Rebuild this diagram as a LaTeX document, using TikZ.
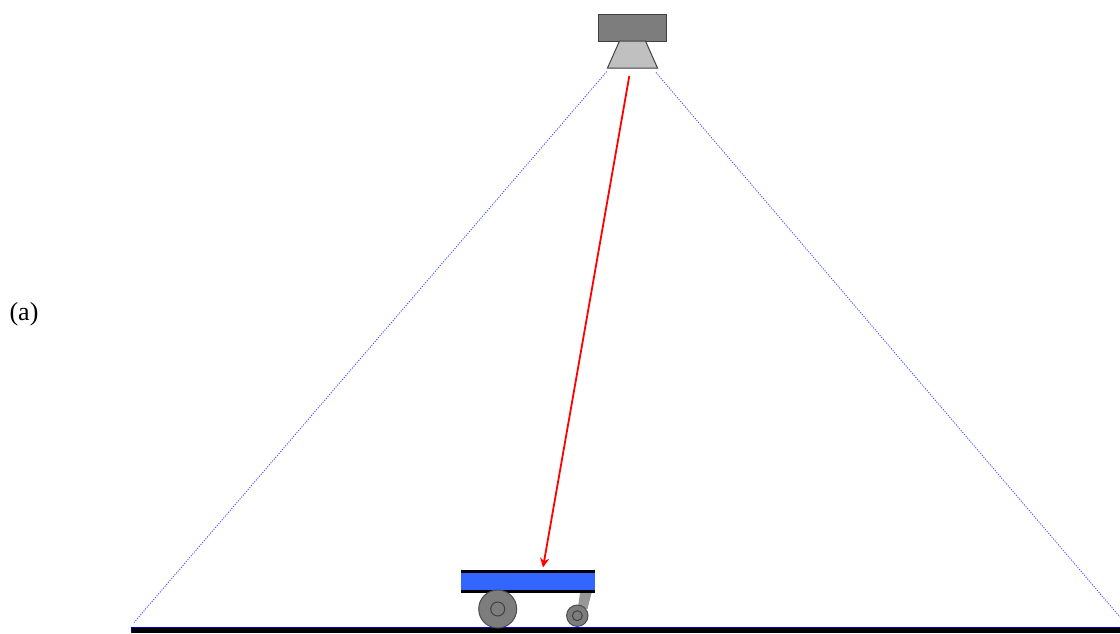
\documentclass[tikz,border=0pt]{standalone}
\usepackage{fontspec, xcolor}
\setmainfont{Liberation Serif}
\usetikzlibrary{arrows.meta}
\definecolor{bodygray}{HTML}{7D7D7D}
\definecolor{lensgray}{HTML}{C0C0C0}
\definecolor{deckblue}{HTML}{3366FF}
\begin{document}
\begin{tikzpicture}[x=1pt, y=-1pt,
    sightline/.style={color=blue!70!white, line width=0.9, dash pattern=on 1.1pt off 1.4pt},
    wheel/.style={draw=black!70, fill=bodygray, line width=1}]
    \useasboundingbox (0,0) rectangle (1120,633);
    \coordinate (LensL) at (606.7,71.6);
    \coordinate (LensR) at (656,72.5);
    \coordinate (FloorL) at (134,622.5);
    \coordinate (FloorR) at (1120,617);
    \coordinate (RayA) at (629.3,76);
    \coordinate (RayB) at (543,567.5);
    % camera
    \draw [fill=bodygray, draw=black!75, line width=1] (598,14) rectangle (666,41);
    \draw [fill=lensgray, draw=black!75, line width=1] (619.5,41) -- (645.5,41) -- (657.5,68) -- (607.5,68) -- cycle;
    % field of view
    \draw [sightline] (LensL) -- (FloorL);
    \draw [sightline] (LensR) -- (FloorR);
    % floor
    \fill [color=black] (131,627) rectangle (1120,633);
    \draw [color=blue!80!black, line width=0.8] (131,633) -- (131,627) -- (1120,627);
    % cart
    \fill [color=deckblue] (461,572) rectangle (595,591);
    \draw [line width=3.3, color=black] (461,571.3) -- (595,571.3);
    \draw [line width=3.3, color=black] (461,591.6) -- (595,591.6);
    \fill [color=bodygray!80] (580,593) -- (591.5,593) -- (587.5,609) -- (578,607) -- cycle;
    \draw [wheel] (497.7,609) circle (19);
    \draw [draw=black!75, line width=1] (497.7,609) circle (7);
    \draw [wheel] (577.3,615.7) circle (10.7);
    \draw [draw=black!75, line width=1] (577.3,615.7) circle (5);
    % ray
    \draw [-{Stealth[length=9.5, width=9]}, color=red, line width=1.8] (RayA) -- (RayB);
    \node (Label) at (24,314) {\fontsize{26}{30}\selectfont (a)};
\end{tikzpicture}
\end{document}
